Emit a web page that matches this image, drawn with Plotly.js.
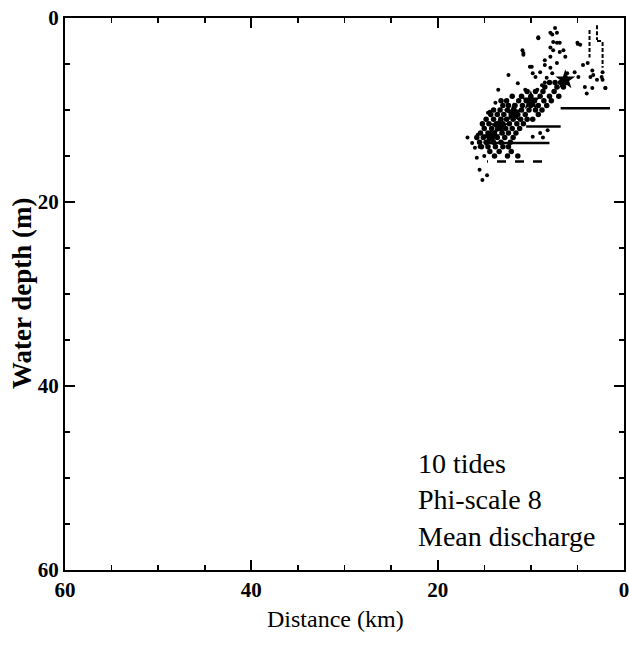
<!DOCTYPE html>
<html>
<head>
<meta charset="utf-8">
<script src="https://cdn.plot.ly/plotly-3.0.1.min.js"></script>
<style>html,body{margin:0;padding:0;background:#fff;}#chart{width:629px;height:648px;}</style>
</head>
<body>
<div id="chart"></div>
<script>
// Sparse scatter dots (distance km, water depth m)
const sparseKm = [
  7.7,7.2,7.6,9.2,6.9,6.5,7.6,7.9,7.2,8.5,4.7,3.9,3.4,3.6,2.9,2.4,3.4,4.2,4.0,4.9,5.3,2.0,2.3,9.0,9.5,8.5,7.9,6.1,
  10.9,10.8,7.9,6.9,6.3,10.1,9.8,8.5,7.7,8.3,12.4,11.4,10.6,9.3,8.8,
  10.8,9.9,9.2,7.9,7.4,7.2,5.0,4.4,3.3,2.3,2.0,13.5,13.8,12.6,14.6,
  9.0,8.7,9.8,8.2,
  15.5,14.7,15.2,16.3,16.0,15.8,15.7,15.2,14.4,16.8,15.0,15.5
];
const sparseDepth = [
  1.8,1.6,2.6,2.2,2.7,3.5,3.5,4.2,4.9,4.6,2.9,4.9,5.7,6.4,6.7,6.4,7.6,7.5,8.2,6.4,5.9,7.6,5.9,5.9,6.4,7.0,5.4,6.0,
  3.5,4.0,3.2,3.7,4.2,5.3,6.0,5.1,6.0,6.5,6.2,7.1,7.8,7.8,7.3,
  3.8,5.3,2.1,1.6,1.1,2.7,2.7,5.1,6.2,6.7,7.6,7.8,9.2,9.1,10.3,
  12.5,13.0,12.9,12.2,
  16.5,17.1,17.6,13.6,14.1,15.2,12.7,11.6,10.2,13.0,15.0,14.0
];
// Dense core of the cloud
const denseKm = [
  6.2,6.8,7.4,8.0,
  6.5,7.2,8.5,
  7.5,8.7,9.5,10.4,
  7.0,8.0,9.0,10.0,11.0,12.0,
  7.8,8.6,9.6,10.5,11.3,12.6,13.2,
  8.3,9.2,10.0,10.9,11.7,12.4,13.0,
  8.8,9.5,10.2,11.0,11.8,12.5,13.3,14.0,
  9.2,10.6,11.4,12.1,12.9,13.6,14.3,
  9.8,10.4,11.1,11.9,12.6,13.2,14.0,14.8,
  10.8,11.5,12.3,13.0,13.7,14.5,15.2,
  11.2,12.0,12.7,13.5,14.2,15.0,
  11.6,12.4,13.1,13.9,14.6,15.4,
  11.9,12.8,13.6,14.3,15.1,15.8,
  12.2,13.2,14.0,14.8,15.5,
  12.4,13.0,13.8,14.6,15.3,
  12.1,13.4,14.4,
  12.5,11.4,13.9
];
const denseDepth = [
  7.0,7.0,7.0,7.0,
  7.5,7.5,7.5,
  8.0,8.0,8.0,8.0,
  8.5,8.5,8.5,8.5,8.5,8.5,
  9.0,9.0,9.0,9.0,9.0,9.0,9.0,
  9.5,9.5,9.5,9.5,9.5,9.5,9.5,
  10.0,10.0,10.0,10.0,10.0,10.0,10.0,10.0,
  10.5,10.5,10.5,10.5,10.5,10.5,10.5,
  11.0,11.0,11.0,11.0,11.0,11.0,11.0,11.0,
  11.5,11.5,11.5,11.5,11.5,11.5,11.5,
  12.0,12.0,12.0,12.0,12.0,12.0,
  12.5,12.5,12.5,12.5,12.5,12.5,
  13.0,13.0,13.0,13.0,13.0,13.0,
  13.5,13.5,13.5,13.5,13.5,
  14.0,14.0,14.0,14.0,14.0,
  14.5,14.5,14.5,
  15.0,15.0,15.0
];
// Star markers
const starKm = [6.3, 10.0, 11.9, 13.4, 14.3];
const starDepth = [6.7, 9.0, 10.3, 11.8, 13.0];
// Bed step lines (solid)
const stepSolidKm = [1.5, 6.8, null, 6.8, 10.5, null, 8.0, 15.0];
const stepSolidDepth = [9.8, 9.8, null, 11.8, 11.8, null, 13.6, 13.6];
// Dashed bed line
const stepDashKm = [8.8, 14.7];
const stepDashDepth = [15.6, 15.6];
// Short segments near the mouth
const vertKm = [3.7, 3.7, null, 2.3, 2.3, null, 2.9, 2.3, null, 2.9, 2.9, null, 4.7, 5.2];
const vertDepth = [1.3, 4.3, null, 2.6, 5.4, null, 2.5, 2.5, null, 0.8, 2.4, null, 2.9, 2.9];

const xTickVals = [0, 20, 40, 60];
const yTickVals = [0, 20, 40, 60];
const minorVals = [5, 10, 15, 25, 30, 35, 45, 50, 55];

const black = '#000';
const serif = 'Liberation Serif, Times New Roman, serif';

const traces = [
  {x: stepSolidKm, y: stepSolidDepth, mode: 'lines', line: {color: black, width: 2.5}, hoverinfo: 'skip', connectgaps: false},
  {x: stepDashKm, y: stepDashDepth, mode: 'lines', line: {color: black, width: 2.5, dash: 'dash'}, hoverinfo: 'skip'},
  {x: vertKm, y: vertDepth, mode: 'lines', line: {color: black, width: 2, dash: '4px,2px'}, hoverinfo: 'skip', connectgaps: false},
  {x: sparseKm, y: sparseDepth, mode: 'markers', marker: {color: black, size: 4}, hoverinfo: 'skip'},
  {x: denseKm, y: denseDepth, mode: 'markers', marker: {color: black, size: 5.5}, hoverinfo: 'skip'},
  {x: starKm, y: starDepth, mode: 'markers', marker: {color: black, size: 15, symbol: 'star'}, hoverinfo: 'skip'}
];

const axisCommon = {
  showgrid: false, zeroline: false, showline: true, linecolor: black, linewidth: 2,
  mirror: 'allticks', ticks: 'inside', ticklen: 10, tickwidth: 2, tickcolor: black,
  ticklabeloverflow: 'allow',
  tickfont: {family: serif, size: 21, color: black, weight: 'bold'},
  minor: {tickvals: minorVals, ticks: 'inside', ticklen: 5, tickwidth: 1.5, tickcolor: black}
};

const layout = {
  width: 629, height: 648,
  margin: {l: 65, r: 5, t: 18, b: 78},
  paper_bgcolor: '#fff', plot_bgcolor: '#fff',
  showlegend: false,
  xaxis: Object.assign({}, axisCommon, {
    range: [60, 0], tickmode: 'array', tickvals: xTickVals, ticktext: xTickVals.map(String)
  }),
  yaxis: Object.assign({}, axisCommon, {
    range: [60, 0], tickmode: 'array', tickvals: yTickVals, ticktext: yTickVals.map(String)
  }),
  annotations: [
    {
      xref: 'paper', yref: 'paper', x: 0.628, y: 0.225, xanchor: 'left', yanchor: 'top',
      showarrow: false, align: 'left',
      text: '10 tides<br>Phi-scale 8<br>Mean discharge',
      font: {family: serif, size: 28, color: black}
    },
    {
      xref: 'paper', yref: 'paper', x: (335 - 65) / 559, y: -0.062, xanchor: 'center', yanchor: 'top',
      showarrow: false, text: 'Distance (km)',
      font: {family: serif, size: 24, color: black}
    },
    {
      xref: 'paper', yref: 'paper', x: -0.077, y: (570 - 293) / 552, xanchor: 'center', yanchor: 'middle',
      showarrow: false, textangle: -90, text: 'Water depth (m)',
      font: {family: serif, size: 27, color: black, weight: 'bold'}
    }
  ]
};

Plotly.newPlot('chart', traces, layout, {displayModeBar: false, staticPlot: true});
</script>
</body>
</html>
